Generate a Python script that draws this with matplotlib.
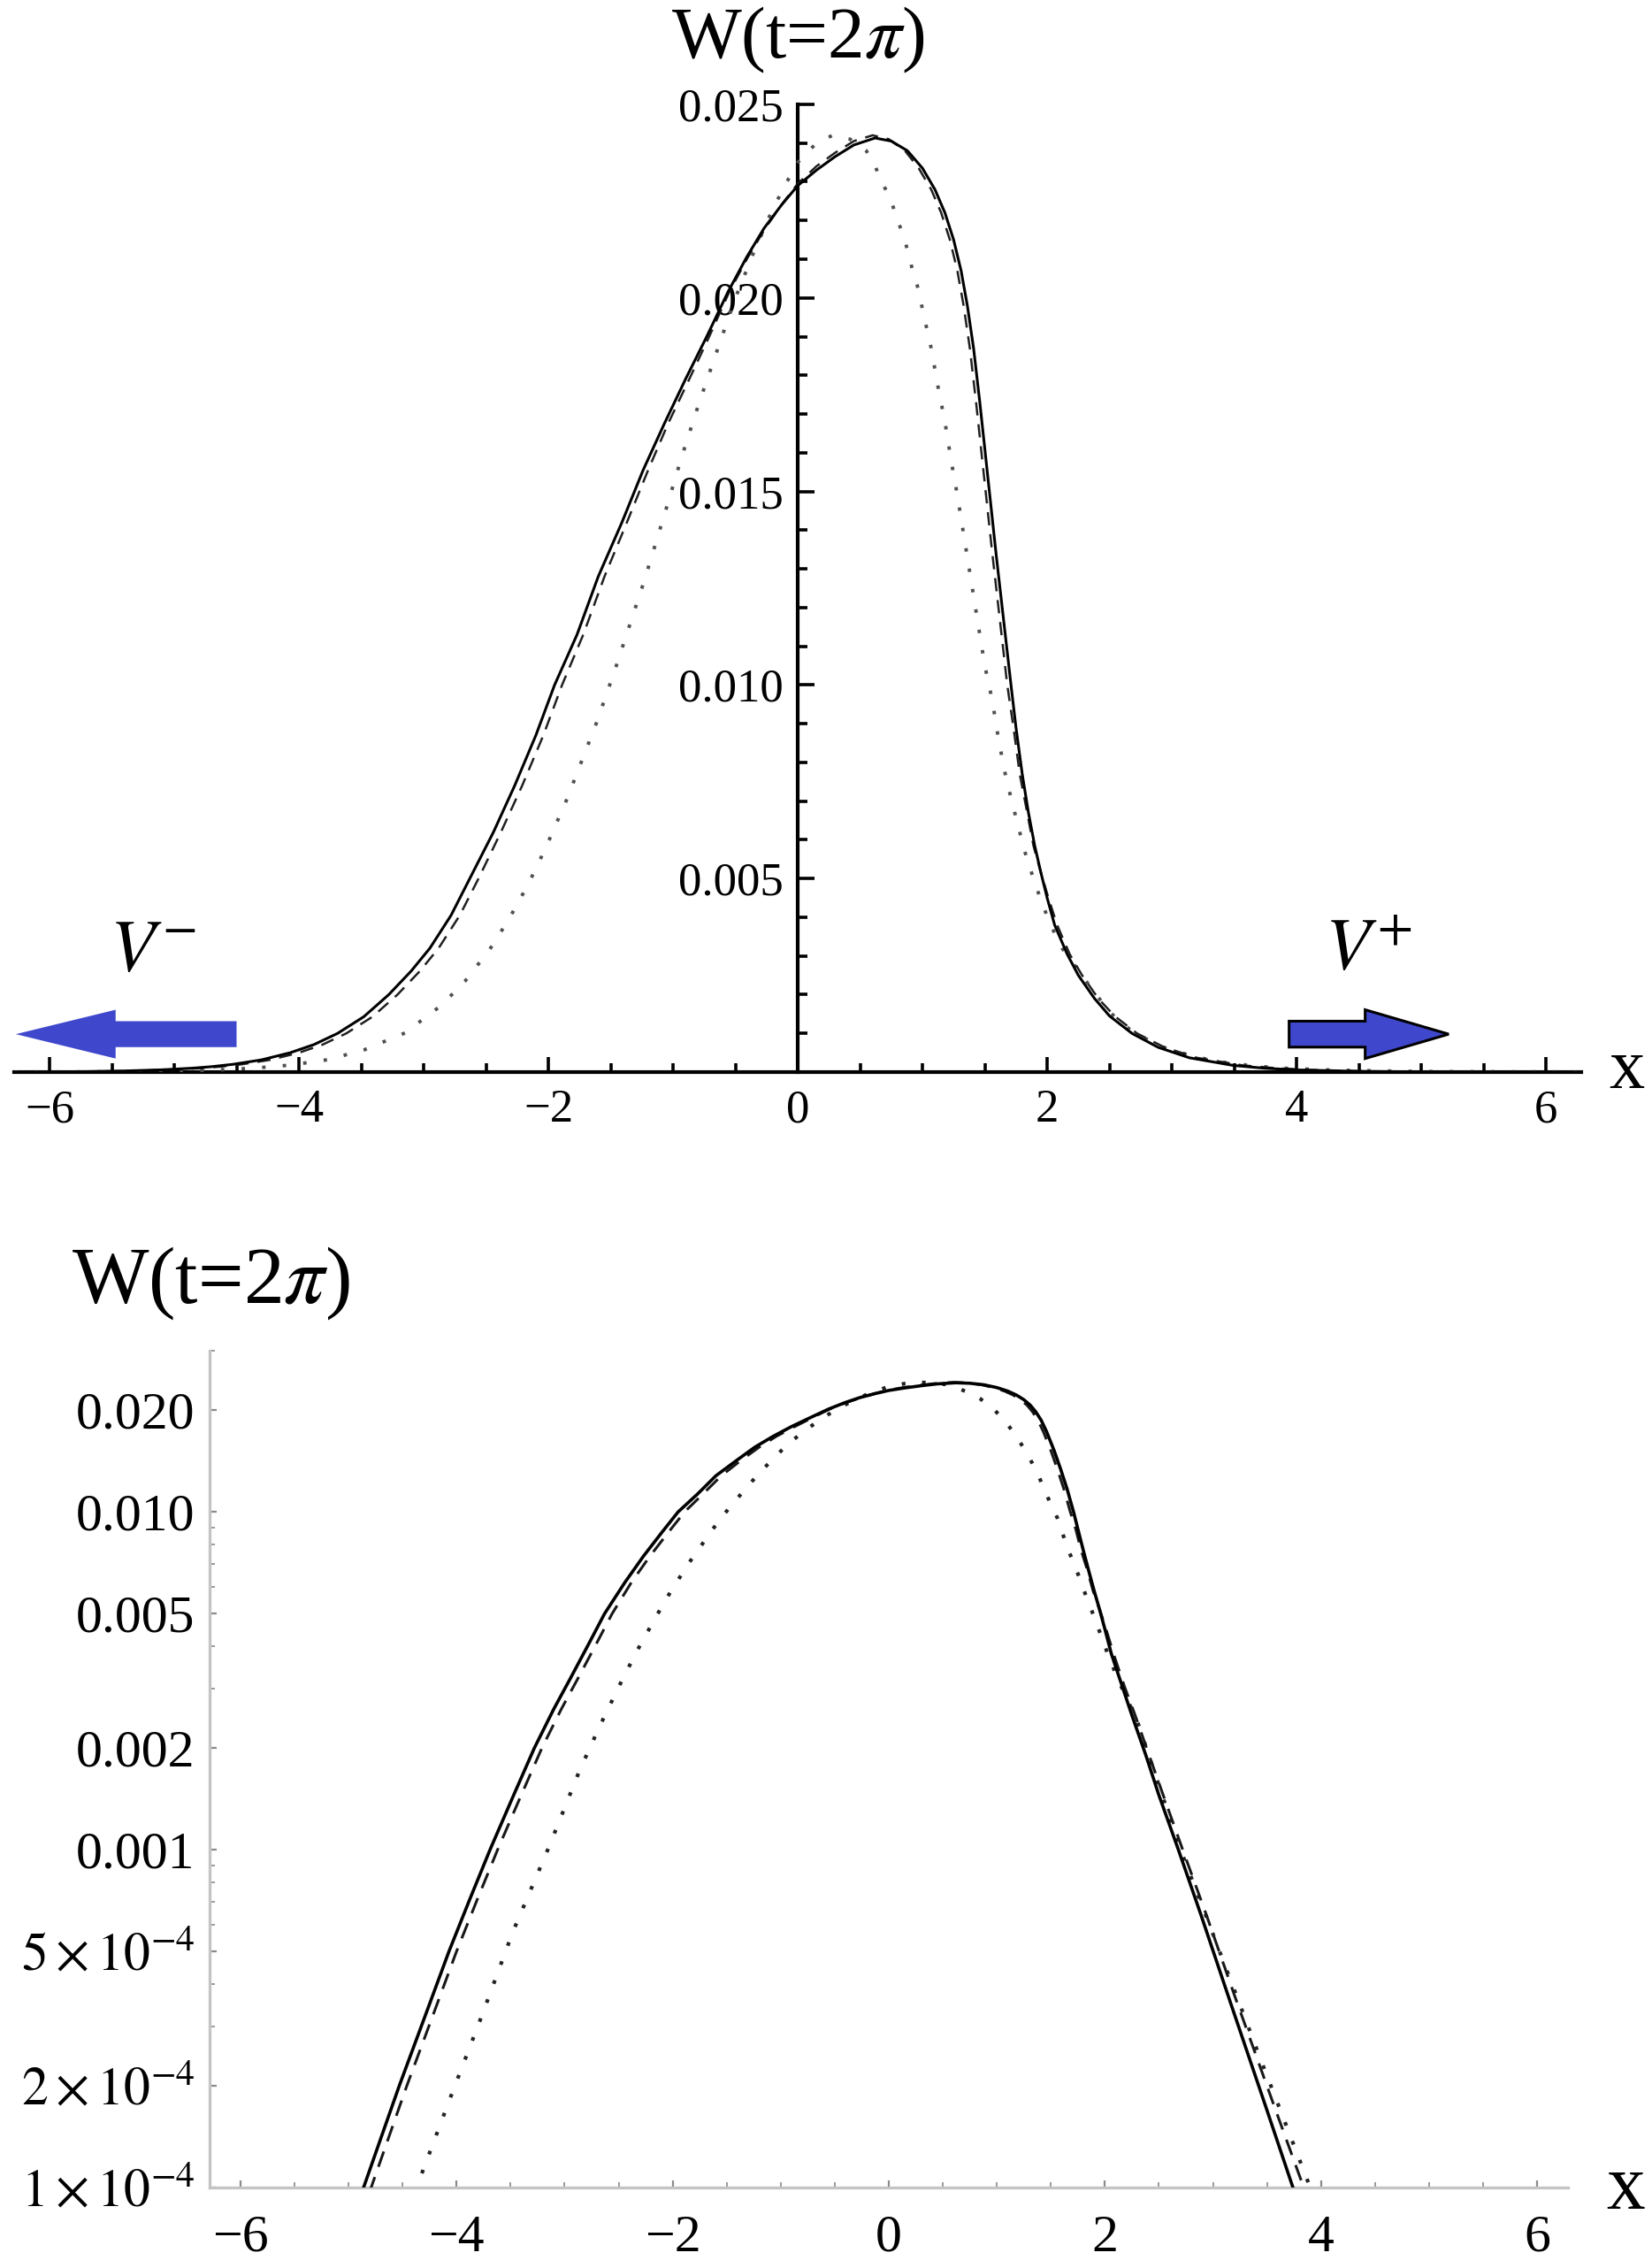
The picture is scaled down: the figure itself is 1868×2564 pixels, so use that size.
import numpy as np
import matplotlib
matplotlib.use("Agg")
import matplotlib.pyplot as plt
from matplotlib.patches import FancyArrow
from matplotlib.ticker import FixedLocator, FixedFormatter, MultipleLocator, NullFormatter

plt.rcParams['font.family'] = ['Liberation Serif', 'DejaVu Serif']
plt.rcParams['mathtext.fontset'] = 'stix'

# ---------------- data ----------------
solid_x = [-6.28, -6.0, -5.7, -5.4, -5.1, -4.86, -4.70, -4.53, -4.30, -4.07, -3.88, -3.69,
           -3.48, -3.28, -3.10, -2.95, -2.78, -2.63, -2.44, -2.27, -2.10, -1.95, -1.77,
           -1.60, -1.41, -1.24, -1.07, -0.90, -0.73, -0.56, -0.41, -0.27, -0.13, 0.0,
           0.15, 0.30, 0.45, 0.62, 0.75, 0.88, 1.00, 1.10, 1.18, 1.25, 1.31, 1.36, 1.41,
           1.46, 1.53, 1.59, 1.65, 1.71, 1.75, 1.80, 1.85, 1.90, 1.95, 2.00, 2.06, 2.16,
           2.25, 2.38, 2.50, 2.68, 2.89, 3.14, 3.49, 3.74, 4.0, 4.5, 5.0, 5.5, 6.28]
solid_w = [2.6e-6, 5.6e-6, 1.3e-5, 2.9e-5, 5.9e-5, 1.0e-4, 1.4e-4, 2.0e-4, 3.16e-4, 5.0e-4,
           7.1e-4, 1.0e-3, 1.43e-3, 2.0e-3, 2.61e-3, 3.2e-3, 4.05e-3, 5.0e-3, 6.2e-3,
           7.4e-3, 8.7e-3, 1.0e-2, 1.13e-2, 1.28e-2, 1.42e-2, 1.555e-2, 1.675e-2, 1.79e-2,
           1.90e-2, 2.015e-2, 2.105e-2, 2.18e-2, 2.24e-2, 2.29e-2, 2.33e-2, 2.365e-2,
           2.395e-2, 2.413e-2, 2.405e-2, 2.38e-2, 2.335e-2, 2.28e-2, 2.22e-2, 2.15e-2,
           2.07e-2, 1.98e-2, 1.87e-2, 1.73e-2, 1.52e-2, 1.34e-2, 1.17e-2, 1.0e-2, 8.9e-3,
           7.7e-3, 6.7e-3, 5.85e-3, 5.15e-3, 4.5e-3, 3.8e-3, 3.05e-3, 2.5e-3, 1.9e-3,
           1.45e-3, 1.0e-3, 6.4e-4, 3.7e-4, 1.73e-4, 1.0e-4, 5.6e-5, 1.9e-5, 6.5e-6,
           2.2e-6, 6e-7]

dashed_x = [-6.28, -6.0, -5.7, -5.4, -5.1, -4.79, -4.63, -4.46, -4.23, -4.00, -3.81, -3.62,
            -3.41, -3.21, -3.03, -2.88, -2.71, -2.56, -2.38, -2.21, -2.04, -1.89, -1.72,
            -1.55, -1.37, -1.20, -1.04, -0.87, -0.71, -0.55, -0.40, -0.26, -0.12, 0.0,
            0.15, 0.30, 0.45, 0.60, 0.73, 0.86, 0.97, 1.07, 1.15, 1.22, 1.28, 1.33, 1.38,
            1.43, 1.50, 1.56, 1.62, 1.68, 1.73, 1.78, 1.84, 1.89, 1.95, 2.01, 2.08, 2.18,
            2.28, 2.41, 2.54, 2.72, 2.94, 3.20, 3.57, 3.84, 4.1, 4.6, 5.1, 6.28]
dashed_w = [2.2e-6, 4.8e-6, 1.1e-5, 2.5e-5, 5.2e-5, 1.0e-4, 1.4e-4, 2.0e-4, 3.16e-4, 5.0e-4,
            7.1e-4, 1.0e-3, 1.43e-3, 2.0e-3, 2.61e-3, 3.2e-3, 4.05e-3, 5.0e-3, 6.2e-3,
            7.4e-3, 8.7e-3, 1.0e-2, 1.13e-2, 1.28e-2, 1.42e-2, 1.555e-2, 1.675e-2, 1.79e-2,
            1.90e-2, 2.015e-2, 2.105e-2, 2.18e-2, 2.245e-2, 2.295e-2, 2.34e-2, 2.375e-2,
            2.405e-2, 2.42e-2, 2.41e-2, 2.38e-2, 2.335e-2, 2.28e-2, 2.22e-2, 2.15e-2,
            2.07e-2, 1.98e-2, 1.87e-2, 1.73e-2, 1.52e-2, 1.34e-2, 1.17e-2, 1.0e-2, 8.9e-3,
            7.7e-3, 6.7e-3, 5.85e-3, 5.15e-3, 4.5e-3, 3.8e-3, 3.05e-3, 2.5e-3, 1.9e-3,
            1.45e-3, 1.0e-3, 6.4e-4, 3.7e-4, 1.73e-4, 1.0e-4, 5.6e-5, 1.9e-5, 6.5e-6, 5e-7]

dotted_x = [-6.28, -5.5, -5.0, -4.68, -4.37, -4.07, -3.77, -3.48, -3.15, -2.86, -2.67,
            -2.47, -2.32, -2.16, -2.02, -1.85, -1.62, -1.47, -1.23, -1.06, -0.93, -0.79,
            -0.64, -0.50, -0.35, -0.20, -0.07, 0.0, 0.15, 0.28, 0.42, 0.55, 0.62, 0.69,
            0.75, 0.80, 0.85, 0.89, 0.93, 0.97, 1.00, 1.07, 1.125, 1.18, 1.23, 1.28, 1.33,
            1.39, 1.45, 1.50, 1.56, 1.61, 1.67, 1.74, 1.82, 1.91, 2.02, 2.12, 2.30, 2.50,
            2.70, 2.95, 3.19, 3.44, 3.67, 3.90, 4.30, 5.0, 6.28]
dotted_w = [1e-6, 7.4e-6, 2.5e-5, 5.2e-5, 1.0e-4, 1.8e-4, 3.2e-4, 5.7e-4, 1.01e-3, 1.72e-3,
            2.34e-3, 3.17e-3, 3.93e-3, 4.86e-3, 5.8e-3, 7.06e-3, 8.97e-3, 1.035e-2,
            1.27e-2, 1.45e-2, 1.59e-2, 1.73e-2, 1.87e-2, 2.0e-2, 2.12e-2, 2.23e-2,
            2.31e-2, 2.35e-2, 2.40e-2, 2.42e-2, 2.41e-2, 2.38e-2, 2.34e-2, 2.29e-2,
            2.25e-2, 2.20e-2, 2.16e-2, 2.11e-2, 2.06e-2, 2.02e-2, 1.97e-2, 1.87e-2,
            1.77e-2, 1.68e-2, 1.58e-2, 1.49e-2, 1.39e-2, 1.27e-2, 1.15e-2, 1.05e-2,
            9.6e-3, 8.6e-3, 7.6e-3, 6.7e-3, 5.7e-3, 4.8e-3, 3.85e-3, 3.2e-3, 2.4e-3,
            1.55e-3, 1.0e-3, 6.2e-4, 3.9e-4, 2.4e-4, 1.55e-4, 1.0e-4, 5e-5, 1.5e-5, 2e-6]

# ticks / labels
x_major = [-6, -4, -2, 0, 2, 4, 6]
x_labels = ["\u22126", "\u22124", "\u22122", "0", "2", "4", "6"]
top_y_major = [0.005, 0.010, 0.015, 0.020, 0.025]
top_y_labels = ["0.005", "0.010", "0.015", "0.020", "0.025"]
log_y_major = [1e-4, 2e-4, 5e-4, 1e-3, 2e-3, 5e-3, 1e-2, 2e-2]
log_y_labels = [r"$1\times10^{-4}$", r"$2\times10^{-4}$", r"$5\times10^{-4}$",
                "0.001", "0.002", "0.005", "0.010", "0.020"]
log_y_minor = [3e-4, 4e-4, 6e-4, 7e-4, 8e-4, 9e-4, 3e-3, 4e-3, 6e-3, 7e-3, 8e-3, 9e-3, 3e-2]

title_text = r"W(t=2$\pi$)"
xlabel_text = "x"
vminus_text = r"$V^{-}$"
vplus_text = r"$V^{+}$"

arrow_color = "#3F48CC"
# arrows: (tail x, tip x, y, shaft width, head width, head length)
left_arrow = (-4.50, -6.27, 0.00098, 0.00067, 0.00126, 0.80)
right_arrow = (3.94, 5.22, 0.00098, 0.00067, 0.00126, 0.67)

XL = 2 * np.pi

fig = plt.figure(figsize=(18.68, 25.64), dpi=100)

# ---------------- top panel (linear) ----------------
ax1 = fig.add_axes([0.0086, 0.5273, 0.9486, 0.4267])
ax1.plot(dotted_x, dotted_w, color="#505050", lw=2.8, linestyle=(0, (1, 5)),
         dash_capstyle="butt", zorder=3)
ax1.plot(dashed_x, dashed_w, color="#202020", lw=1.8, linestyle=(0, (6, 4)), zorder=4)
ax1.plot(solid_x, solid_w, color="black", lw=2.2, zorder=5)
ax1.set_xlim(-XL, XL)
ax1.set_ylim(0, 0.025)
for s in ["top", "right"]:
    ax1.spines[s].set_visible(False)
ax1.spines["left"].set_position(("data", 0))
ax1.spines["bottom"].set_position(("data", 0))
ax1.spines["left"].set_linewidth(3.0)
ax1.spines["bottom"].set_linewidth(3.0)
ax1.xaxis.set_major_locator(FixedLocator(x_major))
ax1.xaxis.set_major_formatter(FixedFormatter(x_labels))
ax1.xaxis.set_minor_locator(MultipleLocator(0.5))
ax1.yaxis.set_major_locator(FixedLocator(top_y_major))
ax1.yaxis.set_major_formatter(FixedFormatter(top_y_labels))
ax1.yaxis.set_minor_locator(MultipleLocator(0.001))
ax1.tick_params(axis="x", which="major", direction="in", length=12, width=2.6,
                labelsize=38, pad=14)
ax1.tick_params(axis="x", which="minor", direction="in", length=7, width=2.6)
ax1.tick_params(axis="y", which="major", direction="in", length=14, width=2.6,
                labelsize=38, pad=12)
ax1.tick_params(axis="y", which="minor", direction="in", length=8, width=2.6)
ax1.set_facecolor("none")

for (tail, tip, yv, w, hw, hl), edge in ((left_arrow, "none"), (right_arrow, "black")):
    arr = FancyArrow(tail, yv, tip - tail, 0, width=w, head_width=hw, head_length=hl,
                     length_includes_head=True, facecolor=arrow_color, edgecolor=edge,
                     linewidth=2.2 if edge != "none" else 0, clip_on=False, zorder=6)
    ax1.add_patch(arr)

ax1.text(-5.17, 0.00309, vminus_text, fontsize=60, ha="center", va="center")
ax1.text(4.58, 0.00309, vplus_text, fontsize=60, ha="center", va="center")

fig.text(0.4829, 0.9746, title_text, fontsize=60, ha="center", va="baseline")
fig.text(0.9845, 0.5203, xlabel_text, fontsize=58, ha="center", va="baseline")

# ---------------- bottom panel (log) ----------------
ax2 = fig.add_axes([0.127, 0.0355, 0.822, 0.3689])
ax2.plot(dotted_x, dotted_w, color="#222222", lw=3.0, linestyle=(0, (1, 4.5)), zorder=3)
ax2.plot(dashed_x, dashed_w, color="#181818", lw=2.2, linestyle=(0, (6, 4)), zorder=4)
ax2.plot(solid_x, solid_w, color="black", lw=2.6, zorder=5)
ax2.set_yscale("log")
ax2.set_xlim(-XL, XL)
ax2.set_ylim(1e-4, 0.03)
for s in ["top", "right"]:
    ax2.spines[s].set_visible(False)
for s in ["left", "bottom"]:
    ax2.spines[s].set_color("#c4c4c4")
    ax2.spines[s].set_linewidth(2.4)
ax2.xaxis.set_major_locator(FixedLocator(x_major))
ax2.xaxis.set_major_formatter(FixedFormatter(x_labels))
ax2.xaxis.set_minor_locator(MultipleLocator(0.5))
ax2.yaxis.set_major_locator(FixedLocator(log_y_major))
ax2.yaxis.set_major_formatter(FixedFormatter(log_y_labels))
ax2.yaxis.set_minor_locator(FixedLocator(log_y_minor))
ax2.yaxis.set_minor_formatter(NullFormatter())
ax2.tick_params(which="major", direction="in", length=6, width=1.6, color="#8a8a8a",
                labelsize=43, labelcolor="black")
ax2.tick_params(which="minor", direction="in", length=4, width=1.4, color="#9a9a9a")
ax2.tick_params(axis="x", which="major", pad=22)
ax2.tick_params(axis="y", which="major", pad=12)

fig.text(0.1274, 0.4255, title_text, fontsize=66, ha="center", va="baseline")
fig.text(0.984, 0.026, xlabel_text, fontsize=63, ha="center", va="baseline")

fig.savefig("out.png", dpi=100, facecolor="white")
